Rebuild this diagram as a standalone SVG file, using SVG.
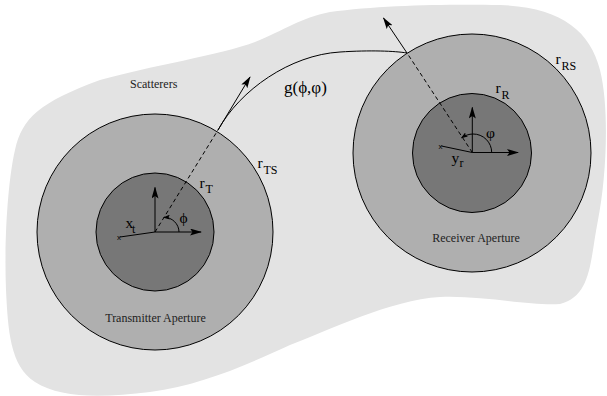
<svg xmlns="http://www.w3.org/2000/svg" width="607" height="396" viewBox="0 0 607 396">
  <style>
    .blob { fill: #e3e3e3; stroke: none; }
    .outer { fill: #afafaf; stroke: #000; stroke-width: 1; }
    .inner { fill: #777777; stroke: #000; stroke-width: 1; }
    .ln { fill: none; stroke: #000; stroke-width: 1; }
    .dash { fill: none; stroke: #000; stroke-width: 1; stroke-dasharray: 4 3; }
    .lbl { font-family: "Liberation Serif", "Times New Roman", serif; font-size: 12px; fill: #222; }
    .math { font-family: "Liberation Serif", "DejaVu Serif", serif; font-size: 15.5px; fill: #000; }
    .sub { font-family: "Liberation Serif", "DejaVu Serif", serif; font-size: 12px; fill: #000; }
    .xm { font-family: "Liberation Sans", sans-serif; font-size: 8px; fill: #000; }
  </style>
  <defs>
    <marker id="arr" markerWidth="12" markerHeight="7" refX="11" refY="3.5" orient="auto" markerUnits="userSpaceOnUse">
      <path d="M0,0 L12,3.5 L0,7 L2.5,3.5 Z" fill="#000"/>
    </marker>
    <marker id="arrs" markerWidth="7" markerHeight="5" refX="6" refY="2.5" orient="auto" markerUnits="userSpaceOnUse">
      <path d="M0,0 L7,2.5 L0,5 L1.5,2.5 Z" fill="#000"/>
    </marker>
  </defs>

  <g id="scatterers">
    <path class="blob" d="M100,80 C150,66 220,55 255,42 C285,30 300,18 330,12 C380,5 450,4 500,5 C560,7 590,30 600,70 C610,110 606,180 598,220 C590,260 592,296 560,304 C530,306 480,295 440,297 C390,300 330,330 290,345 C240,368 200,385 150,392 C100,398 60,398 35,382 C10,366 8,330 6,290 C4,240 8,180 15,150 C22,118 40,102 100,80 Z"/>
    <text class="lbl" x="130" y="88">Scatterers</text>
  </g>

  <g id="transmitter">
    <circle class="outer" cx="155" cy="232" r="118"/>
    <circle class="inner" cx="155" cy="232" r="59"/>
    <text class="lbl" x="155.5" y="322" text-anchor="middle">Transmitter Aperture</text>
    <text class="math" x="257.5" y="168">r</text>
    <text class="sub" x="263.5" y="174">TS</text>
    <text class="math" x="199.5" y="187.5">r</text>
    <text class="sub" x="205.5" y="193">T</text>
    <text class="math" x="125.5" y="228">x</text>
    <text class="sub" x="132" y="232.5">t</text>
    <text class="xm" x="117" y="239.5">x</text>
    <text class="math" x="179.5" y="222.5">ϕ</text>
  </g>

  <g id="receiver">
    <circle class="outer" cx="472" cy="153" r="119"/>
    <circle class="inner" cx="472" cy="153" r="59.5"/>
    <text class="lbl" x="476" y="242" text-anchor="middle">Receiver Aperture</text>
    <text class="math" x="555.5" y="64">r</text>
    <text class="sub" x="561.5" y="69.5">RS</text>
    <text class="math" x="495.5" y="93">r</text>
    <text class="sub" x="501.5" y="99">R</text>
    <text class="math" x="451.5" y="163">y</text>
    <text class="sub" x="459.5" y="167">r</text>
    <text class="xm" x="438.5" y="148.5">x</text>
    <text class="math" x="486" y="138">φ</text>
  </g>

  <g id="connectors">
    <line class="ln" x1="155" y1="232" x2="155" y2="187.5" marker-end="url(#arr)"/>
    <line class="ln" x1="155" y1="232" x2="201" y2="232" marker-end="url(#arr)"/>
    <line class="ln" x1="155" y1="232" x2="120" y2="237"/>
    <line class="dash" x1="155" y1="232" x2="218" y2="130"/>
    <path class="ln" d="M179,232 C179,224 172,217 164,217.5" marker-end="url(#arrs)"/>
    <line class="ln" x1="218" y1="130" x2="250" y2="77" marker-end="url(#arr)"/>
    <path class="ln" d="M218,130 C240,90 290,55 340,52 C370,50 395,51 407,53"/>
    <text class="math" x="284" y="93" style="font-size:17px">g(ϕ,φ)</text>
    <line class="ln" x1="472.3" y1="152.5" x2="472.3" y2="107.5" marker-end="url(#arr)"/>
    <line class="ln" x1="472.3" y1="152.5" x2="518" y2="152.5" marker-end="url(#arr)"/>
    <line class="ln" x1="472.3" y1="152.5" x2="441.5" y2="146"/>
    <line class="dash" x1="472.3" y1="152.5" x2="407" y2="53"/>
    <path class="ln" d="M491.7,152.5 A18.5,18.5 0 0 0 473,134 C469,134 465,135.5 461.7,137.7" marker-end="url(#arrs)"/>
    <line class="ln" x1="407" y1="53" x2="383.5" y2="18" marker-end="url(#arr)"/>
  </g>
</svg>
